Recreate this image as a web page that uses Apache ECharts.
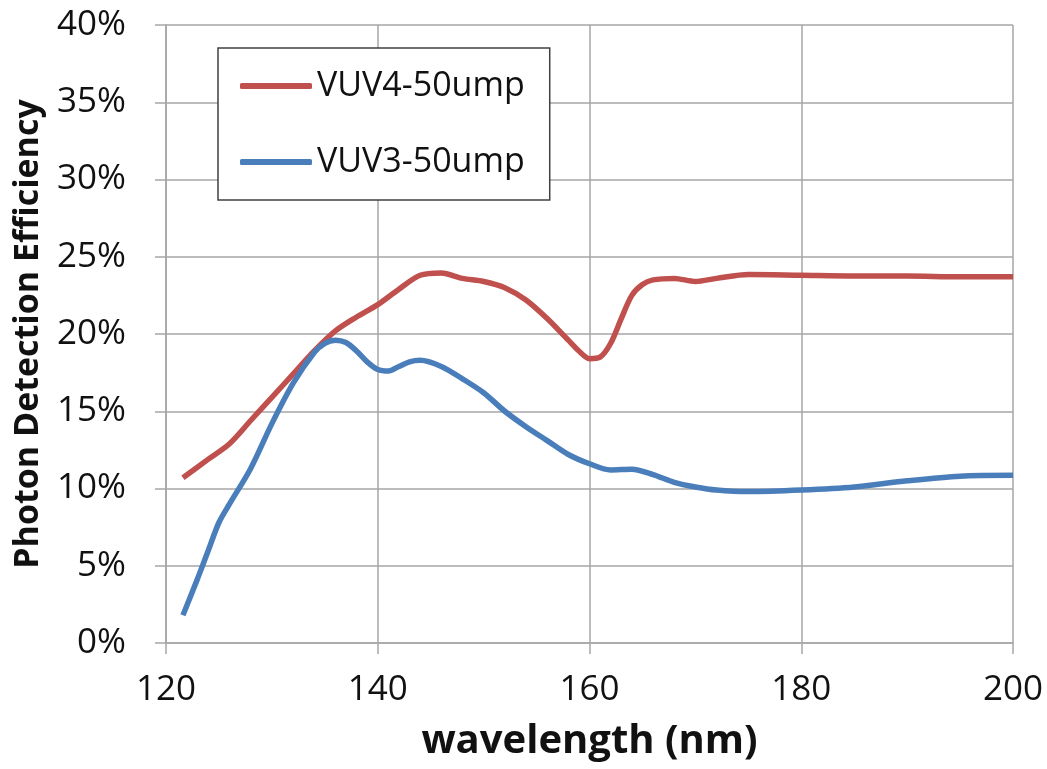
<!DOCTYPE html>
<html>
<head>
<meta charset="utf-8">
<script src="https://cdn.jsdelivr.net/npm/echarts@6/dist/echarts.min.js"></script>
<style>
  html, body { margin: 0; padding: 0; background: #fff; }
  #chart { width: 1047px; height: 769px; }
</style>
</head>
<body>
<div id="chart"></div>
<script>
// VUV4-50ump (red)
const vuv4Wl = [121.6, 124, 126, 128, 130, 132, 134, 136, 138, 140, 142, 144, 146, 148, 150, 152, 154, 156, 158, 159, 160, 161, 162, 163, 164, 165, 166, 168, 170, 172, 175, 180, 185, 190, 195, 200];
const vuv4Pde = [10.7, 11.9, 12.9, 14.4, 15.9, 17.4, 18.9, 20.2, 21.1, 21.9, 22.9, 23.8, 23.95, 23.6, 23.4, 23.0, 22.2, 21.0, 19.6, 18.9, 18.4, 18.5, 19.4, 21.0, 22.5, 23.2, 23.5, 23.6, 23.4, 23.6, 23.85, 23.8, 23.75, 23.75, 23.7, 23.7];

// VUV3-50ump (blue)
const vuv3Wl = [121.6, 123, 124, 125, 126, 128, 130, 132, 134, 135, 136, 137, 138, 139, 140, 141, 142, 143, 144, 146, 148, 150, 152, 154, 156, 158, 160, 162, 164, 166, 168, 170, 172, 175, 180, 185, 190, 195, 200];
const vuv3Pde = [1.8, 4.2, 6.0, 7.8, 9.0, 11.3, 14.2, 16.8, 18.8, 19.4, 19.6, 19.45, 18.9, 18.2, 17.7, 17.6, 17.9, 18.2, 18.3, 17.9, 17.1, 16.2, 15.0, 14.0, 13.1, 12.2, 11.6, 11.2, 11.25, 10.9, 10.4, 10.1, 9.9, 9.8, 9.9, 10.1, 10.5, 10.8, 10.85];

const seriesNames = ["VUV4-50ump", "VUV3-50ump"];
const xTicks = [120, 140, 160, 180, 200];
const yTicks = [0, 5, 10, 15, 20, 25, 30, 35, 40];

const font = "'Open Sans', 'Liberation Sans', sans-serif";
const gridGrey = "#a6a6a6";

const pairs = (xs, ys) => xs.map((x, i) => [x, ys[i]]);

const chart = echarts.init(document.getElementById("chart"));

chart.setOption({
  animation: false,
  grid: { left: 166, right: 34, top: 25, bottom: 126 },
  legend: {
    orient: "vertical",
    left: 218,
    top: 48,
    padding: [18, 25, 18, 22],
    itemWidth: 72,
    itemHeight: 6,
    itemGap: 36,
    icon: "roundRect",
    borderColor: "#404040",
    borderWidth: 1.5,
    backgroundColor: "#fff",
    textStyle: { fontFamily: font, fontSize: 34, lineHeight: 40, color: "#111" },
    data: seriesNames,
  },
  xAxis: {
    type: "value",
    min: xTicks[0],
    max: xTicks[xTicks.length - 1],
    interval: 20,
    name: "wavelength (nm)",
    nameLocation: "middle",
    nameGap: 79,
    nameTextStyle: { fontFamily: font, fontSize: 40, fontWeight: "bold", color: "#111" },
    axisLine: { lineStyle: { color: gridGrey, width: 1.5 } },
    axisTick: { show: true, length: 11, lineStyle: { color: gridGrey, width: 1.5 } },
    axisLabel: { fontFamily: font, fontSize: 35, color: "#111", margin: 30 },
    splitLine: { show: true, lineStyle: { color: gridGrey, width: 1.5 } },
  },
  yAxis: {
    type: "value",
    min: yTicks[0],
    max: yTicks[yTicks.length - 1],
    interval: 5,
    name: "Photon Detection Efficiency",
    nameLocation: "middle",
    nameGap: 121,
    nameTextStyle: { fontFamily: font, fontSize: 34, fontWeight: "bold", color: "#111" },
    axisLine: { show: true, lineStyle: { color: gridGrey, width: 1.5 } },
    axisTick: { show: true, length: 11, lineStyle: { color: gridGrey, width: 1.5 } },
    axisLabel: { fontFamily: font, fontSize: 35, color: "#111", margin: 40, formatter: "{value}%" },
    splitLine: { show: true, lineStyle: { color: gridGrey, width: 1.5 } },
  },
  series: [
    {
      name: seriesNames[0],
      type: "line",
      data: pairs(vuv4Wl, vuv4Pde),
      smooth: 0.3,
      showSymbol: false,
      lineStyle: { color: "#c0504d", width: 5.5 },
      itemStyle: { color: "#c0504d" },
    },
    {
      name: seriesNames[1],
      type: "line",
      data: pairs(vuv3Wl, vuv3Pde),
      smooth: 0.3,
      showSymbol: false,
      lineStyle: { color: "#4a7ebb", width: 5.5 },
      itemStyle: { color: "#4a7ebb" },
    },
  ],
});
</script>
</body>
</html>
